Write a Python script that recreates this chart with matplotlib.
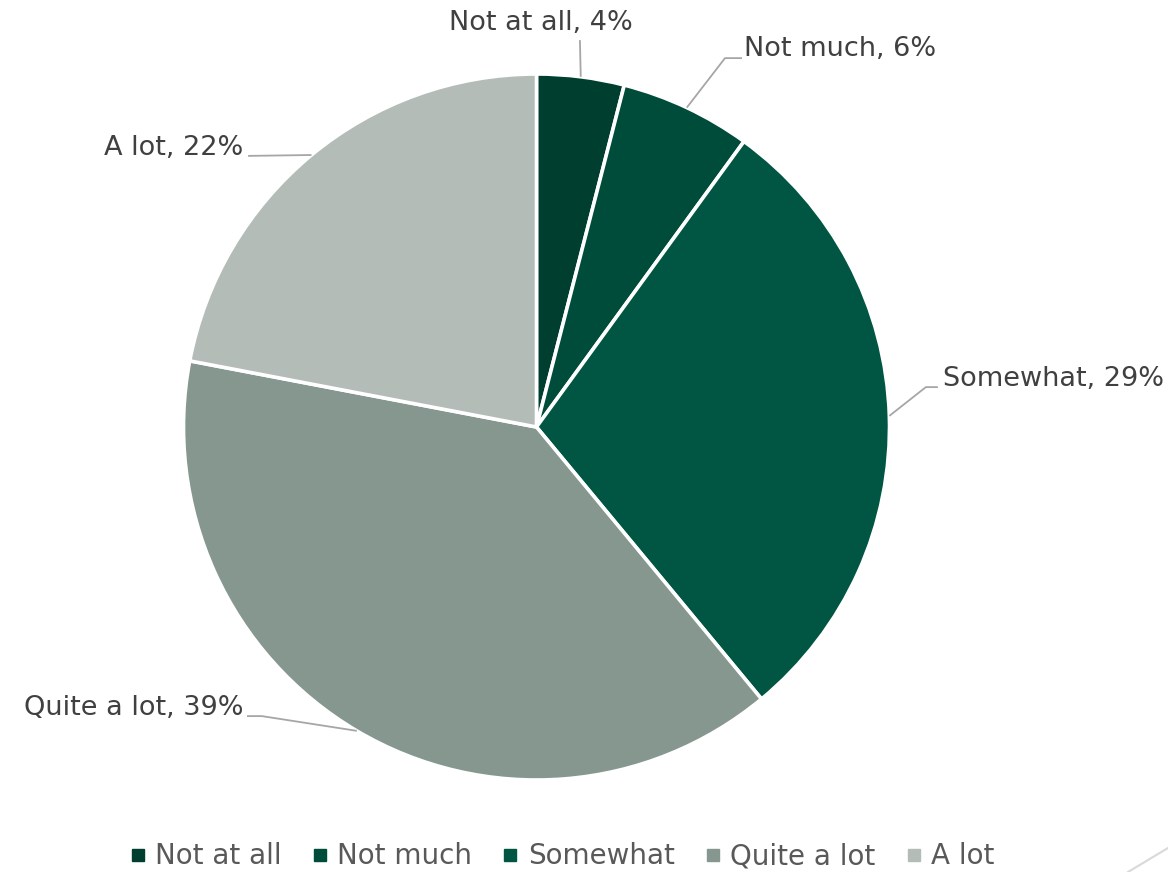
import numpy as np
import matplotlib.pyplot as plt
from matplotlib.lines import Line2D

plt.rcParams['font.family'] = ['DejaVu Sans']

# data
categories = ["Not at all", "Not much", "Somewhat", "Quite a lot", "A lot"]
shares = [4, 6, 29, 39, 22]
colors = ["#003F2F", "#004C3B", "#005642", "#86978F", "#B4BCB8"]

# label anchor positions (data units, pie radius = 1) and horizontal alignment
label_pos = [(0.013, 1.144), (0.588, 1.072), (1.152, 0.137), (-0.831, -0.797), (-0.831, 0.79)]
label_ha = ["center", "left", "left", "right", "right"]
# leader line points after the wedge edge
leader_pts = [
    [(0.123, 1.096)],
    [(0.534, 1.045), (0.582, 1.045)],
    [(1.103, 0.113), (1.137, 0.113)],
    [(-0.778, -0.819), (-0.82, -0.819)],
    [(-0.817, 0.768)],
]

fig = plt.figure(figsize=(11.68, 8.72), dpi=100)
ax = fig.add_axes([0, 0, 1, 1])

wedges, _ = ax.pie(shares, colors=colors, startangle=90, counterclock=False,
                   wedgeprops=dict(edgecolor="white", linewidth=2.6))

R = 353.0
cx, cy = 536.5, 427.0
ax.set_xlim(-cx / R, (1168 - cx) / R)
ax.set_ylim(-(872 - cy) / R, cy / R)
ax.set_aspect("auto")
ax.axis("off")

for w, cat, s, pos, ha, pts in zip(wedges, categories, shares, label_pos, label_ha, leader_pts):
    mid = np.deg2rad((w.theta1 + w.theta2) / 2)
    edge = (np.cos(mid), np.sin(mid))
    xs = [edge[0]] + [p[0] for p in pts]
    ys = [edge[1]] + [p[1] for p in pts]
    ax.plot(xs, ys, color="#A6A6A6", lw=1.3, solid_capstyle="butt")
    ax.text(pos[0], pos[1], f"{cat}, {s}%", ha=ha, va="center",
            fontsize=19.5, color="#404040")

handles = [Line2D([], [], marker="s", linestyle="none", markersize=8.5,
                  markerfacecolor=c, markeredgecolor=c) for c in colors]
fig.legend(handles, categories, loc="center", bbox_to_anchor=(0.482, 0.018),
           ncol=5, frameon=False, fontsize=20, labelcolor="#595959",
           handlelength=0.45, handletextpad=0.4, columnspacing=1.15,
           borderpad=0, borderaxespad=0)

# small corner decoration
fig.add_artist(Line2D([1128 / 1168, 1.0], [0.0, 24 / 872], color="#D9D9D9", lw=1.5))

fig.savefig("out.png", dpi=100)
